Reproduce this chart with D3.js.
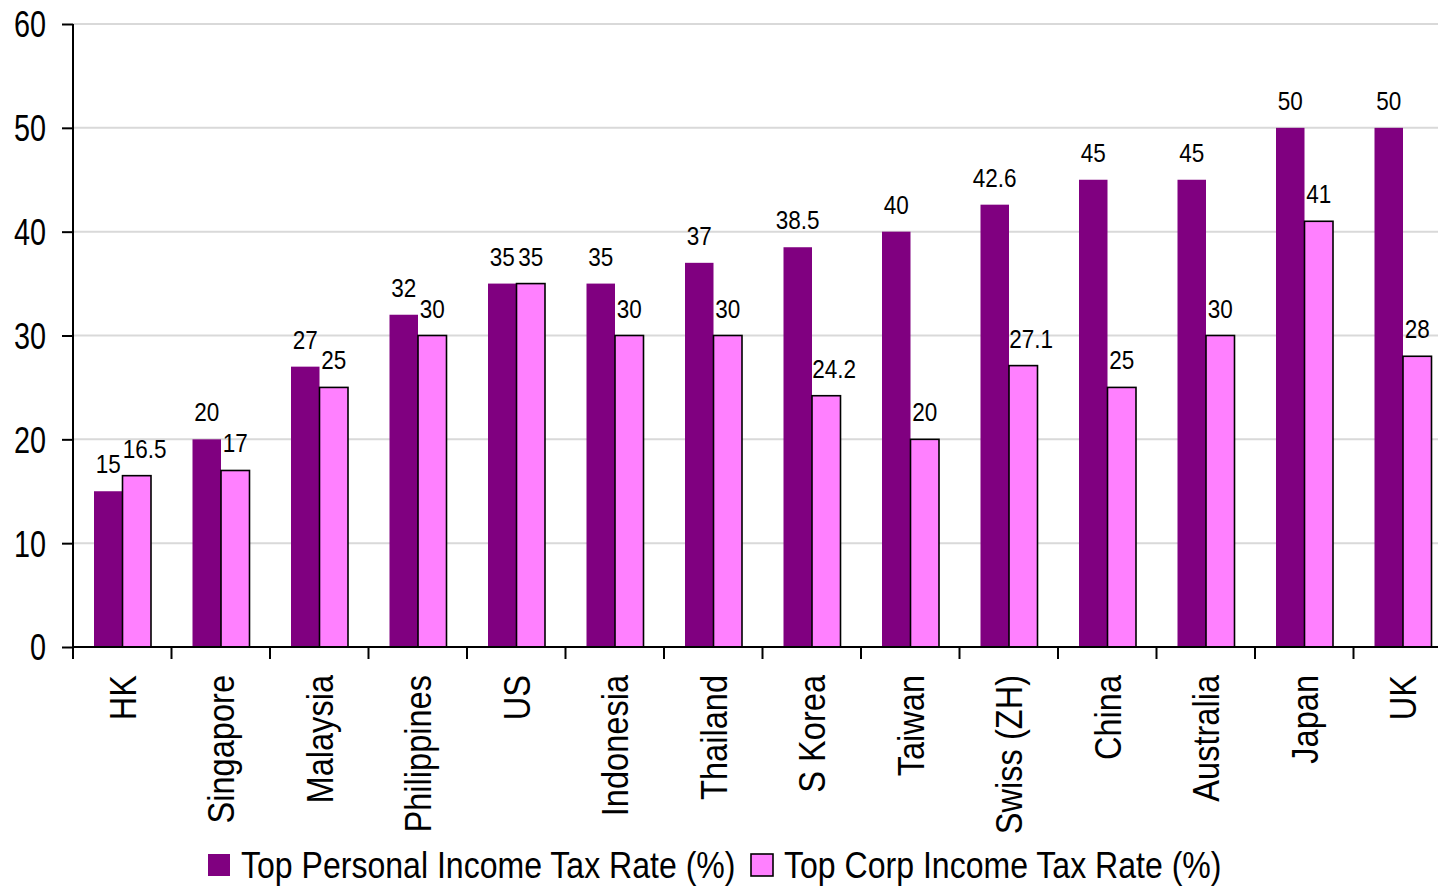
<!DOCTYPE html>
<html>
<head>
<meta charset="utf-8">
<script src="https://cdn.jsdelivr.net/npm/d3@7"></script>
<style>
  html, body { margin: 0; padding: 0; background: #fff; }
  svg { display: block; }
  text { font-family: "Liberation Sans", Arial, sans-serif; fill: #000; }
</style>
</head>
<body>
<svg id="chart" width="1438" height="888"></svg>
<script>
// Top marginal tax rates by economy
const categories = ["HK", "Singapore", "Malaysia", "Philippines", "US", "Indonesia", "Thailand",
  "S Korea", "Taiwan", "Swiss (ZH)", "China", "Australia", "Japan", "UK"];
const personalRate = [15, 20, 27, 32, 35, 35, 37, 38.5, 40, 42.6, 45, 45, 50, 50];
const corpRate = [16.5, 17, 25, 30, 35, 30, 30, 24.2, 20, 27.1, 25, 30, 41, 28];
const seriesNames = ["Top Personal Income Tax Rate (%)", "Top Corp Income Tax Rate (%)"];
const seriesColors = ["#800080", "#FF80FF"];
const yTicks = [0, 10, 20, 30, 40, 50, 60];

// Condense text along its own direction to get a narrow face
function condense(sel, factor) {
  sel.each(function () {
    const w = this.getComputedTextLength();
    this.setAttribute("textLength", (w * factor).toFixed(2));
    this.setAttribute("lengthAdjust", "spacingAndGlyphs");
  });
}

(function drawChart() {
  const W = 1438;
  const plotLeft = 73, plotTop = 24, plotBottom = 647;
  const bandW = 98.5;

  const svg = d3.select("#chart");

  const x0 = d3.scaleBand()
    .domain(categories)
    .range([plotLeft, plotLeft + bandW * categories.length])
    .paddingInner(0).paddingOuter(0);

  const x1 = d3.scaleBand()
    .domain([0, 1])
    .range([21, 21 + 57])
    .paddingInner(0).paddingOuter(0);

  const y = d3.scaleLinear().domain([0, 60]).range([plotBottom, plotTop]);

  // Horizontal gridlines
  svg.append("g")
    .selectAll("line")
    .data(yTicks.filter(t => t > 0))
    .join("line")
    .attr("x1", plotLeft).attr("x2", W)
    .attr("y1", d => y(d)).attr("y2", d => y(d))
    .attr("stroke", "#d9d9d9").attr("stroke-width", 2);

  // Bars
  const rows = categories.map((c, i) => ({ c, vals: [personalRate[i], corpRate[i]] }));

  const groups = svg.append("g")
    .selectAll("g")
    .data(rows)
    .join("g")
    .attr("transform", d => `translate(${x0(d.c)},0)`);

  groups.selectAll("rect")
    .data(d => d.vals.map((v, s) => ({ v, s })))
    .join("rect")
    .attr("x", d => x1(d.s))
    .attr("width", x1.bandwidth())
    .attr("y", d => y(d.v))
    .attr("height", d => y(0) - y(d.v))
    .attr("fill", d => seriesColors[d.s])
    .attr("stroke", d => d.s === 1 ? "#000" : "none")
    .attr("stroke-width", 1.6);

  // Value labels above bars
  const valueLabels = groups.selectAll("text")
    .data(d => d.vals.map((v, s) => ({ v, s })))
    .join("text")
    .attr("x", d => x1(d.s) + x1.bandwidth() / 2 + (d.s === 1 && !Number.isInteger(d.v) ? 8 : 0))
    .attr("y", d => y(d.v) - 18)
    .attr("text-anchor", "middle")
    .attr("font-size", 25)
    .text(d => d.v);
  condense(valueLabels, 0.9);

  // Y axis
  const yAxis = d3.axisLeft(y).tickValues(yTicks).tickSize(11).tickPadding(16).tickFormat(d3.format("d"));
  const gy = svg.append("g").attr("transform", `translate(${plotLeft},0)`).call(yAxis);
  gy.attr("font-family", null).attr("font-size", null);
  gy.select(".domain").attr("stroke", "#000").attr("stroke-width", 2).attr("d", `M0,${plotTop}V${plotBottom}`);
  gy.selectAll(".tick line").attr("stroke", "#000").attr("stroke-width", 2);
  const yLabels = gy.selectAll(".tick text")
    .attr("font-size", 36)
    .attr("dy", "0.36em");
  condense(yLabels, 0.8);

  // X axis baseline and category boundary ticks
  svg.append("line")
    .attr("x1", plotLeft).attr("x2", W)
    .attr("y1", plotBottom).attr("y2", plotBottom)
    .attr("stroke", "#000").attr("stroke-width", 2);

  svg.append("g")
    .selectAll("line")
    .data(categories)
    .join("line")
    .attr("x1", d => x0(d)).attr("x2", d => x0(d))
    .attr("y1", plotBottom).attr("y2", plotBottom + 12)
    .attr("stroke", "#000").attr("stroke-width", 2);

  // Rotated category labels
  const catLabels = svg.append("g")
    .selectAll("text")
    .data(categories)
    .join("text")
    .attr("transform", d => `translate(${x0(d) + x0.bandwidth() / 2},${plotBottom + 28}) rotate(-90)`)
    .attr("text-anchor", "end")
    .attr("dy", "0.36em")
    .attr("font-size", 37)
    .text(d => d);
  condense(catLabels, 0.88);

  // Legend
  const legendX = [208, 751];
  const legend = svg.append("g")
    .selectAll("g")
    .data(seriesNames)
    .join("g")
    .attr("transform", (d, i) => `translate(${legendX[i]},854)`);

  legend.append("rect")
    .attr("width", 22).attr("height", 22)
    .attr("fill", (d, i) => seriesColors[i])
    .attr("stroke", (d, i) => i === 1 ? "#000" : "none")
    .attr("stroke-width", 1.6);

  const legendText = legend.append("text")
    .attr("x", 33)
    .attr("y", 24)
    .attr("font-size", 36)
    .text(d => d);
  condense(legendText, 0.89);
})();
</script>
</body>
</html>
